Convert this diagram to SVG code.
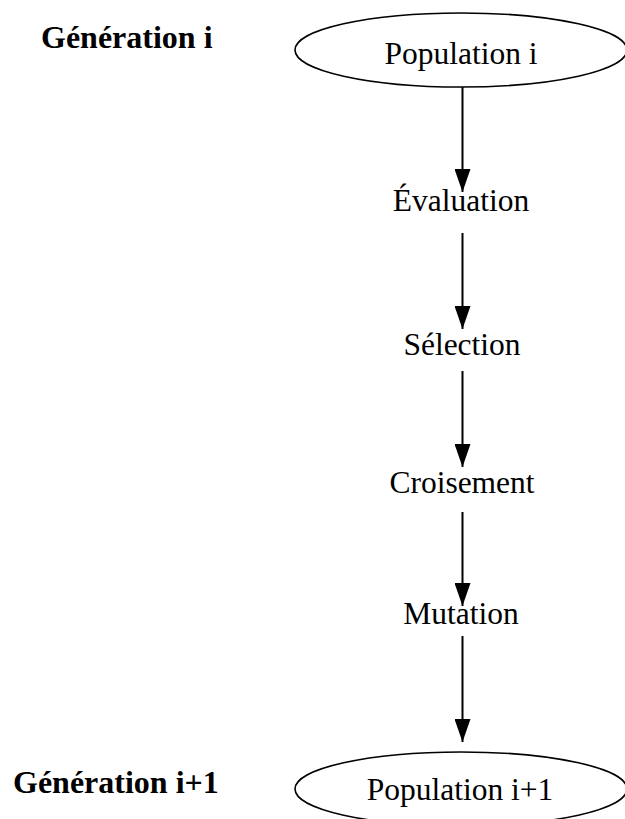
<svg xmlns="http://www.w3.org/2000/svg" width="625" height="819" viewBox="0 0 625 819">
<defs>
<style>
.t{font-family:"Liberation Serif","Times New Roman",serif;font-size:31.5px;fill:#000;text-anchor:middle}
.b{font-family:"Liberation Serif","Times New Roman",serif;font-size:32px;font-weight:bold;fill:#000}
.e{fill:#fff;stroke:#000;stroke-width:1.6}
.c{stroke:#000;stroke-width:2;fill:none;marker-end:url(#ah)}
</style>
<marker id="ah" markerUnits="userSpaceOnUse" markerWidth="23" markerHeight="16" viewBox="0 0 23 16" refX="23" refY="8" orient="auto">
<path d="M0,0 L23,8 L0,16 Z" fill="#000"/>
</marker>
</defs>
<rect width="625" height="819" fill="#fff"/>
<g id="connectors">
<line class="c" x1="462.5" y1="87" x2="462.5" y2="192"/>
<line class="c" x1="462.5" y1="233" x2="462.5" y2="329"/>
<line class="c" x1="462.5" y1="371" x2="462.5" y2="467"/>
<line class="c" x1="462.5" y1="512" x2="462.5" y2="606"/>
<line class="c" x1="462.5" y1="636" x2="462.5" y2="742"/>
</g>
<g id="label-gen-i"><text class="b" x="41" y="48">Génération i</text></g>
<g id="label-gen-i1"><text class="b" x="13" y="793">Génération i+1</text></g>
<g id="population-i">
<ellipse class="e" cx="461" cy="50" rx="166" ry="37"/>
<text class="t" x="461" y="64">Population i</text>
</g>
<g id="evaluation"><text class="t" x="461" y="211">Évaluation</text></g>
<g id="selection"><text class="t" x="462" y="355">Sélection</text></g>
<g id="croisement"><text class="t" x="462" y="493">Croisement</text></g>
<g id="mutation"><text class="t" x="461" y="624">Mutation</text></g>
<g id="population-i1">
<ellipse class="e" cx="461" cy="789" rx="166" ry="37"/>
<text class="t" x="460" y="800">Population i+1</text>
</g>
</svg>
